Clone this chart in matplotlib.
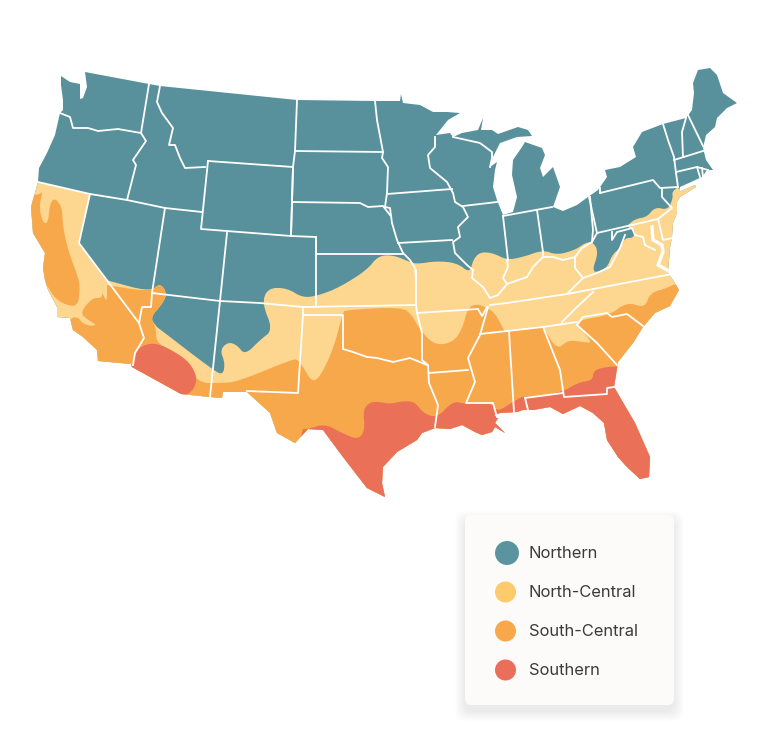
import numpy as np
import matplotlib
matplotlib.use("Agg")
import matplotlib.pyplot as plt
from matplotlib.patches import Polygon, FancyBboxPatch

# todo en coordenadas de pixel de la imagen
us_outline = [(85,72),(149,84),(160,86),(297,100),(375,101),(400,101),(401,94),(403,103),(420,105),(433,112),(447,112),(460,113),
    (448,120),(436,135),(450,133),(453,137),(462,133),(478,130),(483,118),(481,130),(492,130),(498,134),(518,127),(528,130),
    (532,136),(517,137),(500,143),(493,157),(490,167),(497,162),(495,170),(493,187),(497,200),(503,215),(513,212),(517,197),
    (512,175),(513,160),(522,147),(525,142),(542,148),(545,155),(540,168),(543,177),(553,167),(560,187),(553,207),(563,211),
    (577,205),(588,197),(598,190),(607,177),(605,170),(620,167),(636,157),(633,147),(642,132),(663,124),(686,118),(692,110),
    (694,93),(693,83),(698,70),(710,68),(717,75),(723,93),(737,103),(727,108),(717,118),(715,127),(706,135),(703,148),
    (706,160),(713,170),(707,170),(702,177),(680,187),(679,192),(695,185),(696,187),(680,197),(677,202),(677,213),(673,223),
    (672,237),(670,248),(668,273),(673,280),(679,290),(670,306),(655,313),(643,327),(633,343),(618,362),(614,387),(635,423),
    (650,457),(649,477),(640,479),(627,467),(618,457),(607,440),(604,423),(593,413),(580,406),(563,414),(550,407),(533,410),
    (523,410),(517,412),(500,413),(494,415),(498,418),(495,423),(505,433),(495,427),(492,432),(482,435),(475,432),(462,425),
    (450,429),(435,428),(422,433),(417,440),(397,452),(383,467),(382,483),(385,497),(367,488),(353,470),(340,453),(323,430),
    (308,429),(295,443),(277,433),(270,413),(247,392),(223,392),(222,398),(210,397),(181,394),(132,367),(131,364),(98,361),
    (97,350),(83,337),(73,330),(70,318),(57,317),(57,307),(48,290),(45,280),(43,268),(45,253),(33,233),(31,207),(38,182),
    (39,168),(47,153),(55,135),(60,113),(63,110),(63,100),(61,85),(61,76),(70,82),(80,84),(80,99),(83,98),(87,87)]

north_central = [(20,182),(38,182),(38,182),(90,194),(90,194),(90,194),(79,243),(79,243),(79,243),(106,280),(106,280),(150,292),
    (160,283),(167,293),(163,303),(150,318),(157,327),(157,327),(213,370),(223,375),(225,363),(220,350),(228,342),(237,345),
    (245,355),(260,340),(273,330),(262,303),(268,288),(287,288),(303,298),(320,295),(340,287),(367,270),(378,256),(393,255),
    (410,262),(417,264),(437,261),(457,263),(470,273),(473,260),(480,252),(493,253),(507,260),(523,257),(543,250),(557,255),
    (575,250),(585,243),(592,242),(597,248),(597,257),(593,268),(595,273),(607,268),(612,255),(620,248),(625,238),(633,238),
    (635,232),(635,232),(627,226),(627,226),(635,219),(647,217),(655,207),(668,210),(673,198),(672,192),(678,187),(678,187),
    (679,190),(698,182),(720,190),(720,520),(20,520)]

south_central_west = [(20,195),(40,195),(43,190),(39,207),(43,223),(48,223),(50,203),(55,198),(62,207),(63,227),(68,250),(78,277),
    (80,287),(78,307),(63,304),(53,296),(46,283),(20,280)]
south_central_main = [(68,325),(72,317),(79,318),(82,323),(90,326),(97,325),(88,320),(80,313),(92,298),(102,298),(102,292),(107,303),
    (107,285),(107,285),(150,292),(160,283),(167,293),(163,303),(150,318),(156,327),(156,342),(170,350),(198,383),(220,383),
    (237,382),(293,359),(298,360),(303,367),(312,382),(320,377),(333,350),(343,313),(345,310),(402,307),(412,315),(417,325),
    (433,345),(452,343),(462,330),(468,307),(478,304),(487,308),(495,313),(505,332),(505,332),(543,327),(543,327),(557,350),
    (568,340),(583,342),(593,343),(577,325),(580,320),(610,315),(627,302),(645,308),(650,293),(667,288),(677,283),(700,290),
    (700,520),(60,520),(60,325)]

southern_west = [(132,367),(135,353),(143,345),(157,343),(177,353),(190,363),(197,377),(195,387),(188,395),(160,400),(120,375)]
southern_main = [(300,429),(308,429),(325,424),(340,432),(358,440),(365,430),(363,410),(370,402),(380,402),(390,404),(403,401),
    (415,402),(423,413),(437,418),(453,401),(465,404),(493,403),(497,412),(513,402),(523,396),(527,398),(563,392),
    (577,383),(593,380),(593,372),(600,368),(617,366),(700,366),(700,520),(300,520)]

state_lines = [
    [(149,84),(141,133)],
    [(160,86),(157,102),(162,113),(173,128),(169,145),(175,145),(180,158),(185,168),(205,167)],
    [(60,113),(70,117),(73,128),(88,128),(98,131),(118,129),(141,133),(146,141),(133,160),(136,165),(127,200)],
    [(38,182),(90,194),(127,200),(165,208),(202,212)],
    [(208,161),(293,167),(291,236),(201,229),(208,161)],
    [(297,100),(295,151),(293,167)],
    [(293,167),(292,202),(291,236)],
    [(295,151),(383,152)],
    [(292,202),(360,203),(368,207),(383,206),(390,215)],
    [(291,236),(316,237),(316,254),(403,254)],
    [(165,208),(152,293),(151,307),(142,307),(139,323),(144,338),(135,353),(133,365)],
    [(90,194),(79,243),(139,323)],
    [(152,293),(220,301),(260,303),(303,307),(416,305)],
    [(227,233),(220,301),(210,397)],
    [(316,237),(316,307)],
    [(303,307),(303,315),(343,315),(343,349),(353,352),(367,357),(377,358),(393,362),(410,358),(427,365)],
    [(416,270),(416,305),(417,313),(422,333),(422,360),(428,365),(429,383),(438,405),(435,427)],
    [(417,313),(478,309),(482,316),(487,307)],
    [(429,373),(468,370)],
    [(303,315),(298,393),(247,391)],
    [(488,307),(480,335),(468,358),(475,382),(466,403),(493,403),(497,417)],
    [(509,332),(514,412)],
    [(480,334),(543,327),(577,322)],
    [(543,327),(560,370),(564,397),(607,394),(607,388),(614,387)],
    [(525,398),(563,393)],
    [(525,398),(528,410)],
    [(577,325),(597,343),(617,365)],
    [(577,325),(583,317),(607,313),(612,317),(627,314),(643,326)],
    [(562,322),(577,307),(593,292)],
    [(490,305),(507,303),(567,294),(672,274)],
    [(567,294),(583,278),(575,268),(575,257),(563,260),(553,257),(543,257),(533,267),(527,277),(507,284),(498,295),(490,298),(483,287),(472,278),(473,270)],
    [(507,260),(508,267),(503,278),(507,284)],
    [(575,257),(582,248),(592,242),(593,230),(590,197)],
    [(589,197),(597,233),(658,219)],
    [(597,233),(592,242)],
    [(583,278),(597,273),(610,267),(620,248),(625,235)],
    [(612,232),(612,240),(617,232),(625,230),(632,228),(635,235),(643,237),(645,245),(655,250)],
    [(658,219),(663,240),(673,238)],
    [(662,188),(662,197),(672,208),(658,219)],
    [(600,193),(600,188)],
    [(600,193),(653,180),(660,188),(678,187)],
    [(663,124),(668,140),(674,157),(676,173),(678,187)],
    [(686,118),(682,132),(683,157)],
    [(687,113),(703,146)],
    [(674,160),(703,151)],
    [(676,172),(697,167),(708,170)],
    [(697,167),(700,177)],
    [(702,168),(703,177)],
    [(503,216),(552,207)],
    [(503,216),(508,260)],
    [(537,210),(543,252),(543,257)],
    [(463,206),(497,202)],
    [(387,194),(452,189)],
    [(435,137),(435,147),(428,155),(430,168),(447,182),(453,193),(455,202),(463,207),(468,217),(458,227),(460,237),(453,242),(455,253),(467,265),(473,270)],
    [(398,243),(452,240)],
    [(453,137),(480,143),(492,152),(492,158),(490,167)],
    [(375,101),(377,120),(383,152),(382,158),(388,167),(387,193),(385,207),(390,208),(392,223),(397,240),(403,253),(410,260),(415,268),(416,280)],
]

# bahia de Chesapeake, mas gruesa que las fronteras
chesapeake = [(652,227),(653,240),(662,245),(663,252),(658,265),(667,270)]

legend_labels = ["Northern", "North-Central", "South-Central", "Southern"]
legend_colors = ["#5A949E", "#FECB6C", "#F8A84A", "#E96F5A"]
legend_x = [507, 505.5, 505.5, 505.5]
legend_y = [553, 592, 631, 670]
legend_size = [298, 229, 229, 229]

TEAL = "#58919B"
LIGHT = "#FDD690"
ORANGE = "#F7A84B"
RED = "#EB7058"


def suavizar(pts, n=2):
    # corte de esquinas para que las zonas no queden tan angulosas
    p = np.array(pts, dtype=float)
    for _ in range(n):
        q = np.roll(p, -1, axis=0)
        p = np.column_stack([0.75*p + 0.25*q, 0.25*p + 0.75*q]).reshape(-1, 2)
    return p


fig = plt.figure(figsize=(7.68, 7.54), dpi=100)
ax = fig.add_axes([0, 0, 1, 1])
ax.set_xlim(0, 768)
ax.set_ylim(754, 0)
ax.axis("off")

contorno = Polygon(us_outline, closed=True, facecolor=TEAL, edgecolor="none", zorder=1)
ax.add_patch(contorno)

zonas = [(north_central, LIGHT), (south_central_west, ORANGE), (south_central_main, ORANGE),
         (southern_west, RED), (southern_main, RED)]
for pts, color in zonas:
    zona = Polygon(suavizar(pts), closed=True, facecolor=color, edgecolor="none", zorder=2)
    ax.add_patch(zona)
    zona.set_clip_path(contorno)

for linea in state_lines:
    xs, ys = zip(*linea)
    ax.plot(xs, ys, color="white", lw=1.3, solid_joinstyle="round", zorder=3)
xs, ys = zip(*chesapeake)
ax.plot(xs, ys, color="white", lw=2.4, solid_joinstyle="round", zorder=3)

# leyenda con sombra suave
for i in range(20):
    d = 20 - i
    ax.add_patch(FancyBboxPatch((465-d/2, 521-d/2), 209+d, 190+d, boxstyle="round,pad=0,rounding_size=10",
                                facecolor="#808080", edgecolor="none", alpha=0.006, zorder=4))
ax.add_patch(FancyBboxPatch((465, 515), 209, 190, boxstyle="round,pad=0,rounding_size=6",
                            facecolor="#FDFBF9", edgecolor="none", zorder=5))
ax.scatter(legend_x, legend_y, s=legend_size, c=legend_colors, linewidths=0, zorder=6)
for lab, y in zip(legend_labels, legend_y):
    ax.text(529, y+0.5, lab, fontsize=11.9, family="Inter", color="#3A3A3A", va="center", ha="left", zorder=6)

fig.savefig("out.png", dpi=100)
